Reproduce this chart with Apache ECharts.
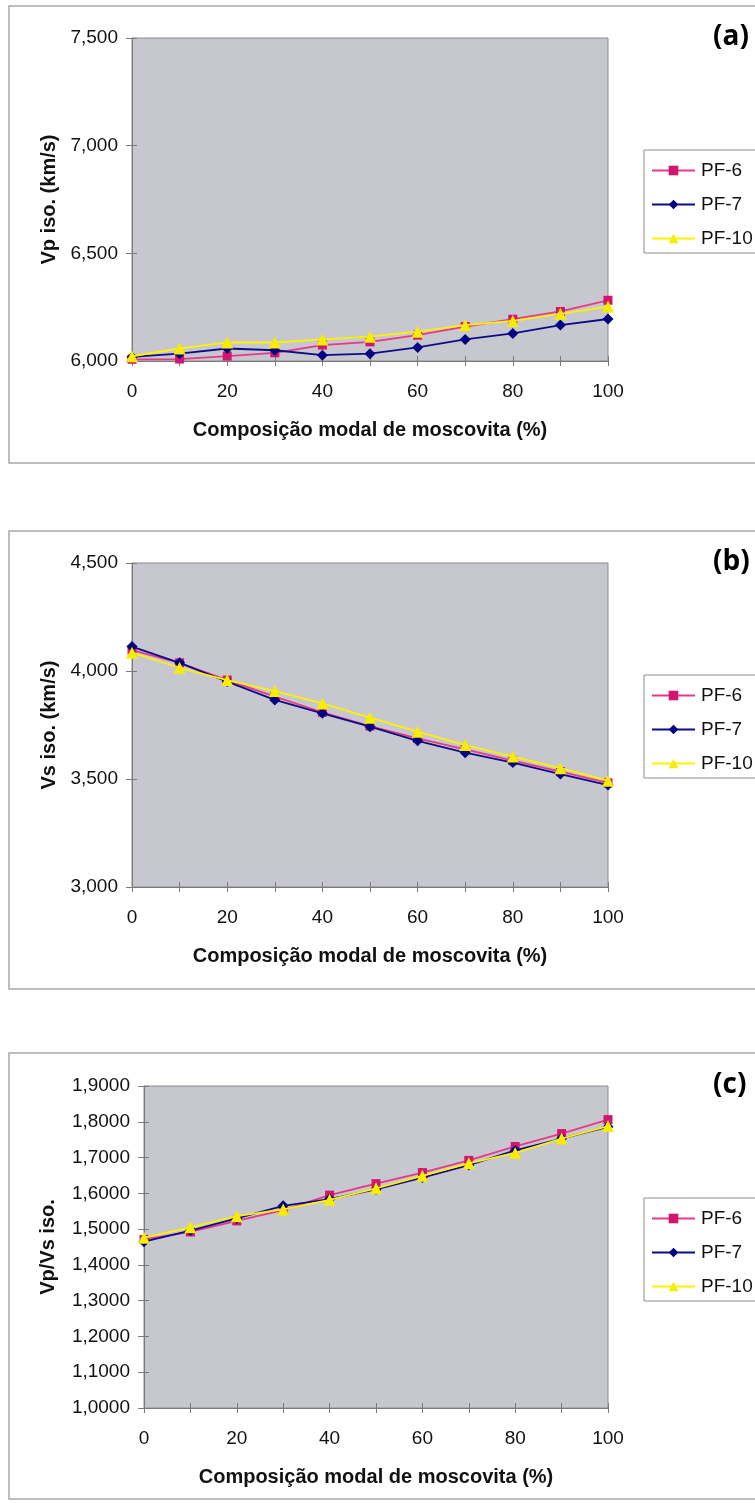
<!DOCTYPE html>
<html>
<head>
<meta charset="utf-8">
<script src="https://cdn.jsdelivr.net/npm/echarts@6/dist/echarts.min.js"></script>
<style>
  html, body { margin: 0; padding: 0; background: #ffffff; }
  #chart { width: 755px; height: 1503px; }
</style>
</head>
<body>
<div id="chart"></div>
<script>
// Modal muscovite composition (%)
const moscovita = [0, 10, 20, 30, 40, 50, 60, 70, 80, 90, 100];
const seriesNames = ['PF-6', 'PF-7', 'PF-10'];
const panelTags = ['(a)', '(b)', '(c)'];
const yTitles = ['Vp iso. (km/s)', 'Vs iso. (km/s)', 'Vp/Vs iso.'];
const xTitle = 'Composição modal de moscovita (%)';

// (a) isotropic P-wave velocity, km/s
const vpPF6  = [6.008, 6.009, 6.023, 6.038, 6.074, 6.089, 6.120, 6.160, 6.194, 6.230, 6.282];
const vpPF7  = [6.019, 6.034, 6.058, 6.050, 6.027, 6.034, 6.063, 6.100, 6.128, 6.167, 6.195];
const vpPF10 = [6.022, 6.058, 6.086, 6.086, 6.100, 6.113, 6.136, 6.167, 6.186, 6.219, 6.253];

// (b) isotropic S-wave velocity, km/s
const vsPF6  = [4.097, 4.038, 3.958, 3.881, 3.809, 3.745, 3.688, 3.637, 3.585, 3.534, 3.482];
const vsPF7  = [4.113, 4.038, 3.951, 3.866, 3.804, 3.742, 3.677, 3.622, 3.576, 3.523, 3.472];
const vsPF10 = [4.085, 4.015, 3.958, 3.907, 3.850, 3.784, 3.719, 3.657, 3.604, 3.550, 3.492];

// (c) Vp/Vs ratio
const rPF6  = [1.471, 1.492, 1.523, 1.553, 1.595, 1.627, 1.658, 1.692, 1.731, 1.767, 1.806];
const rPF7  = [1.465, 1.496, 1.530, 1.565, 1.584, 1.611, 1.644, 1.679, 1.720, 1.753, 1.786];
const rPF10 = [1.476, 1.505, 1.536, 1.555, 1.582, 1.614, 1.649, 1.684, 1.713, 1.753, 1.788];

// y-axis ranges: [min, max, interval, decimals]
const yRanges = [[6, 7.5, 0.5, 3], [3, 4.5, 0.5, 3], [1, 1.9, 0.1, 4]];
const panelValues = [
  [vpPF6, vpPF7, vpPF10],
  [vsPF6, vsPF7, vsPF10],
  [rPF6, rPF7, rPF10]
];

const FONT = '"Liberation Sans", Arial, sans-serif';
const lineColors   = ['#e8388a', '#0c0c86', '#fff200'];
const markerColors = ['#d0166e', '#000080', '#f8ec00'];
const symbols      = ['rect', 'diamond', 'triangle'];
const symbolSizes  = [9, 11, 12];

// Panel geometry (pixels)
const panels = [
  { gridLeft: 132, gridTop: 38, gridH: 323, frameY: 6,    frameH: 457, legendTop: 150,  yNameGap: 73 },
  { gridLeft: 132, gridTop: 563, gridH: 324, frameY: 531, frameH: 458, legendTop: 675,  yNameGap: 73 },
  { gridLeft: 144, gridTop: 1086, gridH: 322, frameY: 1053, frameH: 446, legendTop: 1198, yNameGap: 86 }
];
const gridRight = 147;

const grid = [], xAxis = [], yAxis = [], series = [], legend = [], graphic = [];

panels.forEach((p, k) => {
  grid.push({
    left: p.gridLeft, right: gridRight, top: p.gridTop, height: p.gridH,
    show: true, backgroundColor: '#c6c7cf', borderColor: '#8c8c8c', borderWidth: 1
  });
  const [ymin, ymax, yint, dec] = yRanges[k];
  const axisLineStyle = { color: '#7a7a7a', width: 1 };
  // main x axis (outside ticks + labels)
  xAxis.push({
    gridIndex: k, type: 'value', min: 0, max: 100, interval: 10,
    axisLine: { show: true, lineStyle: axisLineStyle },
    axisTick: { show: true, length: 5, lineStyle: axisLineStyle },
    splitLine: { show: false },
    axisLabel: {
      margin: 21, color: '#111', fontFamily: FONT, fontSize: 19,
      formatter: v => (v % 20 === 0 ? String(v) : '')
    },
    name: xTitle, nameLocation: 'middle', nameGap: 59,
    nameTextStyle: { fontFamily: FONT, fontWeight: 'bold', fontSize: 20, color: '#111' }
  });
  // companion x axis drawing the inner half of each tick
  xAxis.push({
    gridIndex: k, type: 'value', min: 0, max: 100, interval: 10, position: 'bottom',
    axisLine: { show: false },
    axisTick: { show: true, inside: true, length: 5, lineStyle: axisLineStyle },
    axisLabel: { show: false }, splitLine: { show: false }
  });
  yAxis.push({
    gridIndex: k, type: 'value', min: ymin, max: ymax, interval: yint,
    axisLine: { show: true, lineStyle: axisLineStyle },
    axisTick: { show: true, length: 6, lineStyle: axisLineStyle },
    splitLine: { show: false },
    axisLabel: {
      margin: 14, color: '#111', fontFamily: FONT, fontSize: 19,
      formatter: v => v.toFixed(dec).replace('.', ',')
    },
    name: yTitles[k], nameLocation: 'middle', nameGap: p.yNameGap, nameRotate: 90,
    nameTextStyle: { fontFamily: FONT, fontWeight: 'bold', fontSize: 20, color: '#111' }
  });
  yAxis.push({
    gridIndex: k, type: 'value', min: ymin, max: ymax, interval: yint, position: 'left',
    axisLine: { show: false },
    axisTick: { show: true, inside: true, length: 5, lineStyle: axisLineStyle },
    axisLabel: { show: false }, splitLine: { show: false }
  });

  panelValues[k].forEach((vals, s) => {
    series.push({
      name: seriesNames[s], type: 'line',
      xAxisIndex: 2 * k, yAxisIndex: 2 * k,
      data: moscovita.map((x, i) => [x, vals[i]]),
      symbol: symbols[s], symbolSize: symbolSizes[s],
      showAllSymbol: true,
      lineStyle: { color: lineColors[s], width: 1.8 },
      itemStyle: { color: markerColors[s] },
      z: 2 + s,
      animation: false
    });
  });

  legend.push({
    data: seriesNames, orient: 'vertical',
    left: 644, top: p.legendTop,
    padding: [11, 60, 5, 7],
    itemWidth: 43, itemHeight: 12, itemGap: 15,
    borderColor: '#8c8c8c', borderWidth: 1, backgroundColor: '#ffffff',
    textStyle: { fontFamily: FONT, fontSize: 19, color: '#111', padding: [0, 0, 0, 1] },
    selectedMode: false
  });

  // panel frame
  graphic.push({
    type: 'rect', silent: true, z: 0,
    shape: { x: 9, y: p.frameY, width: 800, height: p.frameH },
    style: { fill: 'none', stroke: '#a8a8a8', lineWidth: 1.5 }
  });
  // panel tag
  graphic.push({
    type: 'text', silent: true,
    x: 713, y: p.gridTop - 1,
    style: {
      text: panelTags[k], fill: '#000',
      font: 'bold 28px "Open Sans", "DejaVu Sans", sans-serif',
      verticalAlign: 'middle', align: 'left'
    }
  });
});

const chart = echarts.init(document.getElementById('chart'), null, { renderer: 'canvas' });
chart.setOption({
  animation: false,
  backgroundColor: '#ffffff',
  grid, xAxis, yAxis, series, legend, graphic
});
</script>
</body>
</html>
